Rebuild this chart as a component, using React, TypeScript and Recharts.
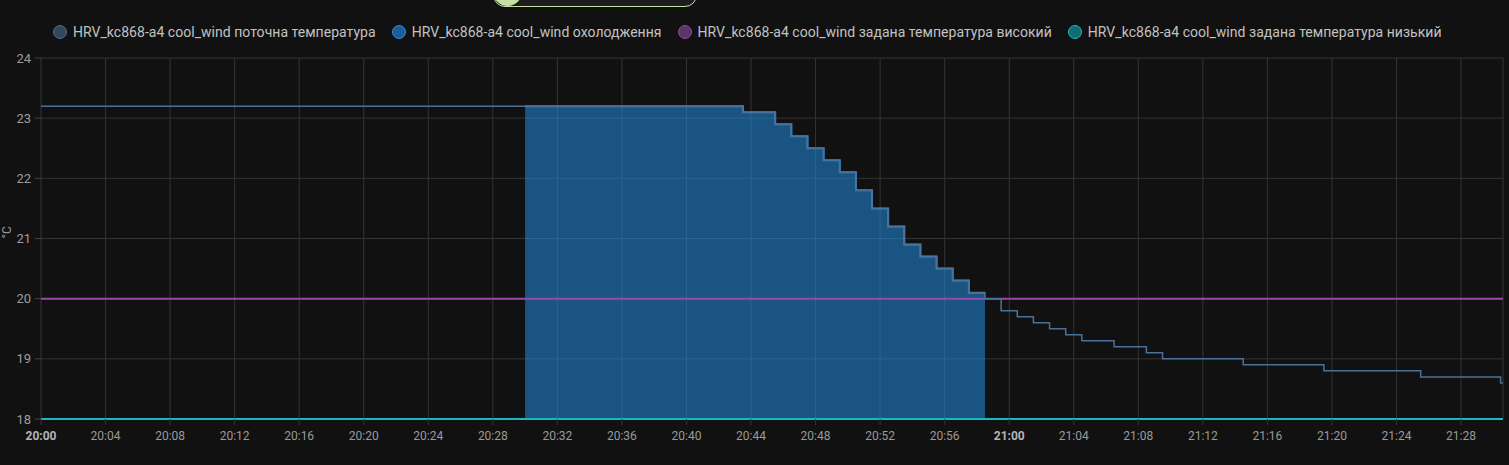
import React from 'react';
import { ComposedChart, Line, Area, XAxis, YAxis, CartesianGrid, Label } from 'recharts';

// minutes after 20:00 where the reading changed, and the reading itself
const currentMinutes = [0, 43.5, 45.5, 46.5, 47.5, 48.5, 49.5, 50.5, 51.5, 52.5, 53.5, 54.5, 55.5, 56.5, 57.5, 58.5, 59.5, 60.5, 61.5, 62.5, 63.5, 64.5, 66.5, 68.5, 69.5, 74.5, 79.5, 85.5, 90.45, 90.6];
const currentTemps = [23.2, 23.1, 22.9, 22.7, 22.5, 22.3, 22.1, 21.8, 21.5, 21.2, 20.9, 20.7, 20.5, 20.3, 20.1, 20.0, 19.8, 19.7, 19.6, 19.5, 19.4, 19.3, 19.2, 19.1, 19.0, 18.9, 18.8, 18.7, 18.6, 18.6];

// cooling active between 20:30 and 20:58:30
const coolingMinutes = [30, 43.5, 45.5, 46.5, 47.5, 48.5, 49.5, 50.5, 51.5, 52.5, 53.5, 54.5, 55.5, 56.5, 57.5, 58.5];
const coolingTemps = [23.2, 23.1, 22.9, 22.7, 22.5, 22.3, 22.1, 21.8, 21.5, 21.2, 20.9, 20.7, 20.5, 20.3, 20.1, 20.1];

const targetMinutes = [0, 90.6];
const targetHigh = [20, 20];
const targetLow = [18, 18];

const xTicks = [0, 4, 8, 12, 16, 20, 24, 28, 32, 36, 40, 44, 48, 52, 56, 60, 64, 68, 72, 76, 80, 84, 88];
const yTicks = [18, 19, 20, 21, 22, 23, 24];

const seriesNames = [
    'HRV_kc868-a4 cool_wind поточна температура',
    'HRV_kc868-a4 cool_wind охолодження',
    'HRV_kc868-a4 cool_wind задана температура високий',
    'HRV_kc868-a4 cool_wind задана температура низький'
];
const legendColors = [
    { fill: '#33485f', border: '#4b6d90' },
    { fill: '#1e5d96', border: '#2f8ce0' },
    { fill: '#5a3566', border: '#8d4c9e' },
    { fill: '#0e6e70', border: '#1fbcbc' }
];

// merge every series onto one time table, missing values stay null
const allMinutes = Array.from(new Set([...currentMinutes, ...coolingMinutes, ...targetMinutes])).sort((a, b) => a - b);
const pick = (mins: number[], vals: number[], t: number) => {
    const i = mins.indexOf(t);
    return i >= 0 ? vals[i] : null;
};
const chartData = allMinutes.map((t) => ({
    t,
    current: pick(currentMinutes, currentTemps, t),
    cooling: pick(coolingMinutes, coolingTemps, t),
    high: pick(targetMinutes, targetHigh, t),
    low: pick(targetMinutes, targetLow, t)
}));

const fmtTime = (m: number) => {
    const h = 20 + Math.floor(m / 60);
    const mm = Math.round(m % 60);
    return `${h}:${mm < 10 ? '0' + mm : mm}`;
};

const TimeTick = (props: any) => {
    const { x, y, payload } = props;
    const bold = payload.value % 60 === 0;
    return (
        <text
            x={x}
            y={y}
            dy="0.71em"
            textAnchor="middle"
            fontSize={12}
            fontFamily="Roboto"
            fontWeight={bold ? 700 : 400}
            fill={bold ? '#b4b4b4' : '#9a9a9a'}
        >
            {fmtTime(payload.value)}
        </text>
    );
};

const App = () => {
    return (
        <div
            style={{
                position: 'fixed',
                top: 0,
                left: 0,
                width: 1509,
                height: 465,
                background: '#111111',
                overflow: 'hidden',
                fontFamily: 'Roboto'
            }}
        >
            {/* the toggle peeking in from above */}
            <div
                style={{
                    position: 'absolute',
                    left: 493,
                    top: -22,
                    width: 202,
                    height: 27,
                    border: '1px solid #c6dfa8',
                    borderRadius: 12,
                    background: '#1d1d1d'
                }}
            />
            <div
                style={{
                    position: 'absolute',
                    left: 493,
                    top: -23,
                    width: 29,
                    height: 29,
                    borderRadius: '50%',
                    background: '#c6e0a6'
                }}
            />

            <div
                style={{
                    position: 'absolute',
                    top: 24,
                    left: 53,
                    display: 'flex',
                    alignItems: 'center',
                    whiteSpace: 'nowrap'
                }}
            >
                {seriesNames.map((name, i) => (
                    <div key={name} style={{ display: 'flex', alignItems: 'center', marginRight: 16 }}>
                        <span
                            style={{
                                width: 12,
                                height: 12,
                                borderRadius: '50%',
                                background: legendColors[i].fill,
                                border: `1.5px solid ${legendColors[i].border}`,
                                marginRight: 6
                            }}
                        />
                        <span style={{ color: '#c2c2c2', fontSize: 14, letterSpacing: 0.03 }}>{name}</span>
                    </div>
                ))}
            </div>

            <ComposedChart
                width={1509}
                height={465}
                data={chartData}
                margin={{ top: 58, right: 6, bottom: 0, left: 0 }}
                style={{ position: 'absolute', top: 0, left: 0 }}
            >
                <CartesianGrid stroke="#343434" strokeWidth={1} />
                <XAxis
                    dataKey="t"
                    type="number"
                    domain={[0, 90.6]}
                    ticks={xTicks}
                    height={46}
                    tick={<TimeTick />}
                    tickSize={6}
                    tickMargin={6}
                    tickLine={{ stroke: '#343434' }}
                    axisLine={false}
                />
                <YAxis
                    type="number"
                    domain={[18, 24]}
                    ticks={yTicks}
                    width={41}
                    tickSize={6}
                    tickMargin={4}
                    tickLine={{ stroke: '#444444' }}
                    axisLine={false}
                    tick={{ fill: '#9e9e9e', fontSize: 13, fontFamily: 'Roboto' }}
                >
                    <Label value="°C" angle={-90} position="insideLeft" offset={7} fill="#9e9e9e" fontSize={12} />
                </YAxis>
                <Line
                    dataKey="high"
                    type="stepAfter"
                    stroke="#9b4aab"
                    strokeWidth={2}
                    dot={false}
                    connectNulls
                    isAnimationActive={false}
                />
                <Line
                    dataKey="current"
                    type="stepAfter"
                    stroke="#4a719a"
                    strokeWidth={1.5}
                    dot={false}
                    connectNulls
                    isAnimationActive={false}
                />
                <Area
                    dataKey="cooling"
                    type="stepAfter"
                    stroke="#3a84c6"
                    strokeWidth={2}
                    fill="#218ce0"
                    fillOpacity={0.55}
                    dot={false}
                    isAnimationActive={false}
                />
                <Line
                    dataKey="low"
                    type="stepAfter"
                    stroke="#1cb8c0"
                    strokeWidth={2}
                    dot={false}
                    connectNulls
                    isAnimationActive={false}
                />
            </ComposedChart>
        </div>
    );
};

export default App;
